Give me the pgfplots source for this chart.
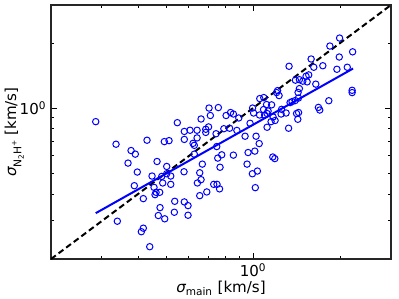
\documentclass[border=0pt]{standalone}
\usepackage{pgfplots}
\pgfplotsset{compat=1.18}
\usepackage{fontspec}
\setmainfont{DejaVu Sans}
\begin{document}
\begin{tikzpicture}
\begin{axis}[
  at={(0,0)}, anchor=south west,
  scale only axis, width=255pt, height=190.5pt,
  xmode=log, ymode=log,
  xmin=0.2, xmax=3, ymin=0.2, ymax=3,
  xtick={1}, ytick={1},
  xticklabels={10\textsuperscript{0}}, yticklabels={10\textsuperscript{0}},
  minor xtick={0.2,0.3,0.4,0.5,0.6,0.7,0.8,0.9,2,3},
  minor ytick={0.2,0.3,0.4,0.5,0.6,0.7,0.8,0.9,2,3},
  tick align=inside,
  major tick length=4.5pt, minor tick length=2.2pt,
  every tick/.style={black, line width=0.7pt},
  axis line style={line width=0.8pt, black!85},
  tick label style={font=\fontsize{11.3}{13}\selectfont},
  label style={font=\fontsize{11.3}{13}\selectfont},
  xlabel={{\itshape σ}\textsubscript{main} [km/s]},
  ylabel={{\itshape σ}\raisebox{-0.35em}{\fontsize{8}{9}\selectfont N\raisebox{-0.25em}{\fontsize{5.5}{6}\selectfont 2}H\raisebox{0.45em}{\fontsize{5.5}{6}\selectfont +}} [km/s]},
  xlabel style={at={(axis description cs:0.5,-0.1155)}, anchor=center},
  ylabel style={at={(axis description cs:-0.108,0.5)}, anchor=center},
  clip=true,
]
\addplot[only marks, mark=o, mark size=2.4pt, mark options={draw=blue, line width=0.75pt}] table {
x y
0.2856 0.865
0.3357 0.680
0.3784 0.6357
0.3915 0.6117
0.4297 0.7096
0.4932 0.6991
0.5121 0.7065
0.5470 0.8556
0.3694 0.556
0.3977 0.5054
0.4654 0.5656
0.5027 0.5364
0.4472 0.4843
0.4831 0.4823
0.5191 0.4843
0.5027 0.4963
0.3884 0.4370
0.4544 0.4292
0.4869 0.4498
0.5191 0.4432
0.4617 0.4071
0.4754 0.4071
0.458 0.3972
0.4172 0.3807
0.5358 0.3700
0.4766 0.3460
0.5341 0.3292
0.4701 0.3179
0.4948 0.3070
0.3392 0.2992
0.4172 0.2778
0.4107 0.2675
0.4391 0.2280
0.5783 0.7793
0.6053 0.7893
0.6402 0.7893
0.5783 0.7158
0.6402 0.7274
0.6199 0.6863
0.6263 0.6719
0.6608 0.8898
0.7042 1.0
0.7585 1.005
0.7115 0.9235
0.8066 0.9235
0.8359 0.9534
0.8548 0.9383
0.8924 0.8994
0.6861 0.7978
0.7015 0.8177
0.6861 0.7711
0.7447 0.7605
0.7924 0.802
0.8294 0.8063
0.879 0.7877
0.7488 0.6633
0.6263 0.6117
0.8548 0.6053
0.9610 0.6223
0.7548 0.5864
0.7792 0.6073
0.6676 0.5500
0.7687 0.5319
0.9533 0.5500
0.5770 0.5070
0.6539 0.5016
0.6608 0.4660
0.6418 0.4498
0.7311 0.4432
0.7506 0.4432
0.7657 0.4224
0.6917 0.4088
0.6539 0.393
0.5783 0.3676
0.5957 0.3534
0.5957 0.3189
0.996 1.0
1.004 0.9483
1.0548 1.106
1.089 1.118
1.1135 1.038
1.1588 1.0345
1.087 0.984
1.127 0.9687
1.053 0.9284
1.096 0.9284
1.118 0.9433
1.173 0.9089
1.154 0.865
1.1916 0.8757
1.2155 1.204
1.206 1.179
1.230 1.142
1.255 0.9863
1.250 0.9383
1.3007 0.9483
1.414 0.9433
1.437 0.9534
1.428 0.8870
1.118 0.8148
1.327 0.8063
1.398 1.083
1.364 1.071
1.435 1.112
1.446 1.230
1.431 1.181
1.343 1.060
1.401 1.346
1.446 1.353
1.486 1.332
1.525 1.404
1.558 1.424
1.538 1.322
1.648 1.290
1.332 1.561
1.588 1.687
1.622 1.545
1.743 1.570
1.992 2.109
1.844 1.937
2.210 1.821
1.987 1.723
1.950 1.512
2.118 1.545
1.828 1.081
1.683 1.007
1.701 0.979
2.201 1.208
2.201 1.179
1.024 0.7405
1.050 0.6847
1.014 0.6317
1.170 0.5933
1.189 0.5834
1.035 0.5108
0.9945 0.4963
1.018 0.4279
0.9763 0.8502
0.9383 0.7405
};
\addplot[black, line width=1.5pt, dash pattern=on 4.5pt off 2.6pt] coordinates {(0.2,0.2) (3,3)};
\addplot[blue, line width=1.5pt] coordinates {(0.2856,0.326) (2.218,1.524)};
\end{axis}
\pgfresetboundingbox
\path (-38.25pt,-30pt) rectangle (261pt,194.25pt);
\end{tikzpicture}
\end{document}
